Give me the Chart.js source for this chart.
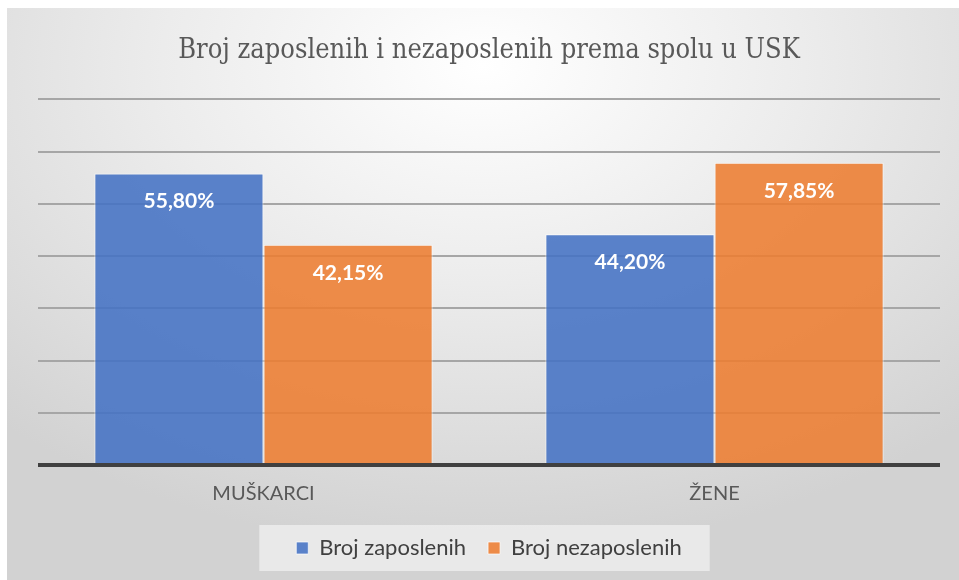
<!DOCTYPE html>
<html>
<head>
<meta charset="utf-8">
<script src="https://cdn.jsdelivr.net/npm/chart.js@4.4.0/dist/chart.umd.min.js"></script>
<style>
  html, body { margin: 0; padding: 0; background: #fff; }
  #wrap {
    position: absolute; left: 7px; top: 8px; width: 952px; height: 572px;
    background: radial-gradient(ellipse 75% 85% at 50% 10%, #ffffff 0%, #ececec 45%, #d2d2d2 100%);
  }
</style>
</head>
<body>
<div id="wrap"><canvas id="chart" width="952" height="572"></canvas></div>
<script>
const categories = ['MUŠKARCI', 'ŽENE'];
const seriesNames = ['Broj zaposlenih', 'Broj nezaposlenih'];
const zaposleni = [55.80, 44.20];
const nezaposleni = [42.15, 57.85];
const chartTitle = 'Broj zaposlenih i nezaposlenih prema spolu u USK';

// bijeli postotci unutar stupaca
const valueLabels = {
  id: 'valueLabels',
  afterDatasetsDraw(chart) {
    const ctx = chart.ctx;
    ctx.save();
    ctx.fillStyle = '#ffffff';
    ctx.font = 'bold 21px Lato';
    ctx.textAlign = 'center';
    ctx.textBaseline = 'middle';
    chart.data.datasets.forEach((ds, i) => {
      chart.getDatasetMeta(i).data.forEach((bar, j) => {
        const txt = ds.data[j].toFixed(2).replace('.', ',') + '%';
        ctx.fillText(txt, bar.x, bar.y + 28);
      });
    });
    ctx.restore();
  }
};

// svjetlija podloga legende
const legendBox = {
  id: 'legendBox',
  beforeDraw(chart) {
    const lg = chart.legend;
    if (!lg || !lg.legendHitBoxes.length) return;
    const boxes = lg.legendHitBoxes;
    const first = boxes[0], last = boxes[boxes.length - 1];
    const x1 = first.left - 37;
    const x2 = last.left + last.width + 28;
    const y1 = first.top - 12;
    const y2 = first.top + first.height + 12;
    const ctx = chart.ctx;
    ctx.save();
    ctx.fillStyle = 'rgba(240,240,240,0.75)';
    ctx.fillRect(x1, y1, x2 - x1, y2 - y1);
    ctx.restore();
  }
};

new Chart(document.getElementById('chart'), {
  type: 'bar',
  data: {
    labels: categories,
    datasets: [{
      label: seriesNames[0],
      data: zaposleni,
      backgroundColor: 'rgba(68,114,196,0.88)',
      borderColor: 'rgba(255,255,255,0.7)',
      borderWidth: 1
    }, {
      label: seriesNames[1],
      data: nezaposleni,
      backgroundColor: 'rgba(237,125,49,0.88)',
      borderColor: 'rgba(255,255,255,0.7)',
      borderWidth: 1
    }]
  },
  options: {
    responsive: false,
    animation: false,
    layout: { padding: { left: 31, right: 19, top: 0, bottom: 11 } },
    datasets: { bar: { categoryPercentage: 0.75, barPercentage: 1 } },
    plugins: {
      title: {
        display: true,
        text: chartTitle,
        color: '#595959',
        font: { family: 'DejaVu Serif Condensed', size: 27, weight: 'normal' },
        padding: { top: 27, bottom: 32 }
      },
      legend: {
        position: 'bottom',
        labels: {
          color: '#404040',
          font: { family: 'Lato', size: 22 },
          boxWidth: 12,
          boxHeight: 12,
          padding: 22
        }
      },
      tooltip: { enabled: false }
    },
    scales: {
      x: {
        grid: { display: false },
        border: { display: false },
        ticks: { color: '#595959', font: { family: 'Lato', size: 20 }, padding: 9 }
      },
      y: {
        min: 0,
        max: 70,
        ticks: { display: false, stepSize: 10 },
        border: { display: false },
        grid: {
          drawTicks: false,
          color: c => c.tick.value === 0 ? '#404040' : '#a6a6a6',
          lineWidth: c => c.tick.value === 0 ? 4 : 2
        }
      }
    }
  },
  plugins: [valueLabels, legendBox]
});
</script>
</body>
</html>
